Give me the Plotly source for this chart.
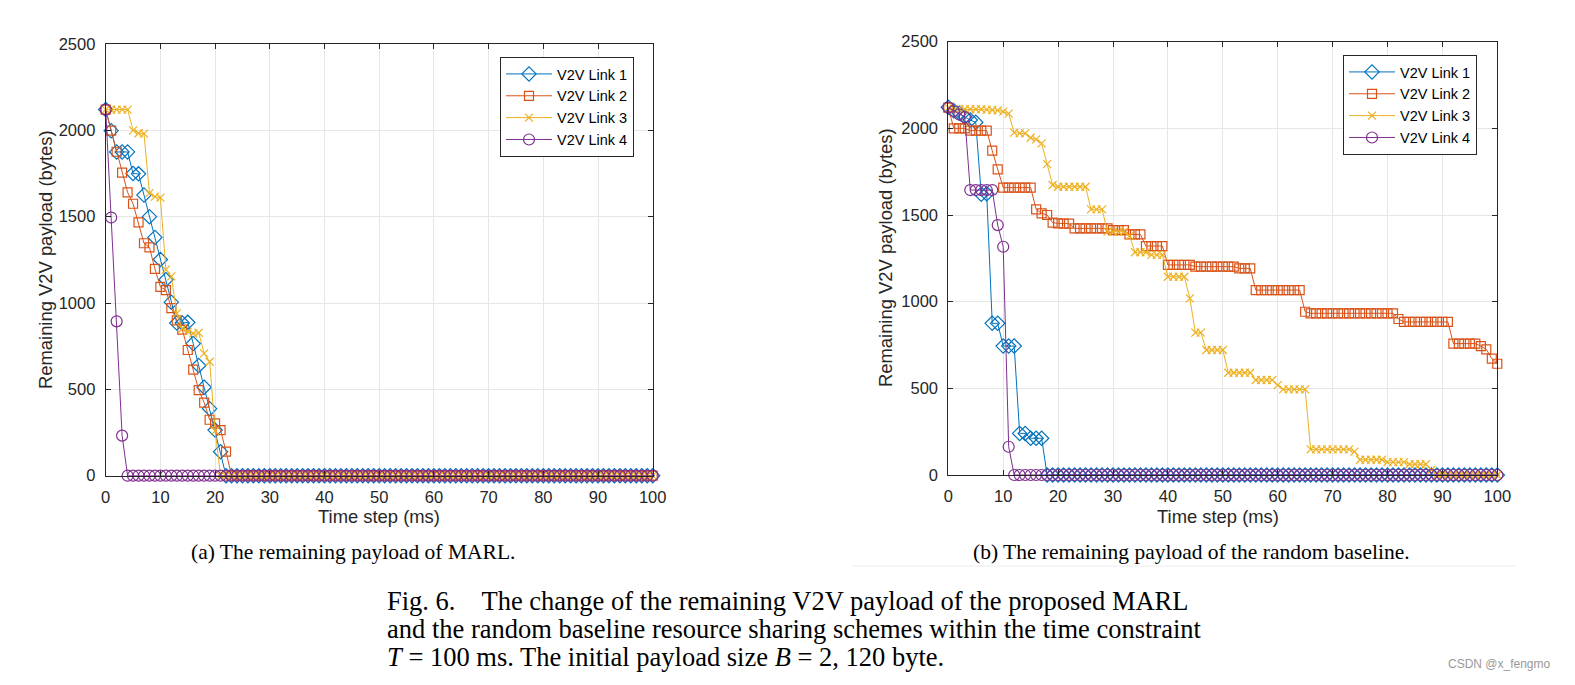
import plotly.graph_objects as go

# ---------------- data ----------------
steps = list(range(0, 101))

# (a) MARL
marl_link1 = [2120, 1998, 1875, 1875, 1875, 1750, 1748, 1625, 1500, 1380, 1252, 1135, 1005, 884, 884, 888,
              765, 638, 512, 388, 264, 139, 0] + [0] * 78
marl_link2 = [2120, 1998, 1876, 1755, 1641, 1575, 1467, 1346, 1322, 1198, 1093, 1075, 970, 900, 846, 728,
              614, 496, 423, 324, 303, 264, 139, 0] + [0] * 77
marl_link3 = [2120, 2120, 2120, 2120, 2120, 2000, 1983, 1981, 1636, 1616, 1610, 1193, 1154, 940, 851, 834,
              824, 828, 708, 660, 260, 0] + [0] * 79
marl_link4 = [2120, 1495, 894, 232, 0] + [0] * 96

# (b) random baseline
rand_link1 = [2122, 2102, 2087, 2067, 2048, 2035, 1620, 1622, 875, 875, 744, 744, 744, 240, 240, 212,
              212, 212] + [0] * 83
rand_link2 = ([2120, 2000, 2000, 2000, 1987, 1987, 1987, 1987, 1871, 1763]
              + [1658] * 6                      # 10-15
              + [1533, 1510, 1500]              # 16-18
              + [1456, 1452, 1450, 1450]        # 19-22
              + [1423] * 7                      # 23-29
              + [1413] * 3                      # 30-32
              + [1388] * 3                      # 33-35
              + [1321] * 4                      # 36-39
              + [1212] * 5                      # 40-44
              + [1202] * 8                      # 45-52
              + [1192] * 3                      # 53-55
              + [1067] * 9                      # 56-64
              + [942]                           # 65
              + [933] * 16                      # 66-81
              + [900]                           # 82
              + [883] * 9                       # 83-91
              + [758] * 5                       # 92-96
              + [744, 725, 671, 642])           # 97-100
rand_link3 = ([2120, 2112, 2110, 2110, 2110, 2110, 2110, 2108, 2106, 2104, 2097, 2085,
               1975, 1971, 1971, 1946, 1936, 1913, 1794, 1673]
              + [1663] * 6                      # 20-25
              + [1533] * 3                      # 26-28
              + [1404] * 4                      # 29-32
              + [1380]                          # 33
              + [1285] * 3                      # 34-36
              + [1270] * 3                      # 37-39
              + [1144] * 4                      # 40-43
              + [1019]                          # 44
              + [821] * 2                       # 45-46
              + [721] * 4                       # 47-50
              + [590] * 5                       # 51-55
              + [548] * 4                       # 56-59
              + [519]                           # 60
              + [494] * 5                       # 61-65
              + [148] * 8                       # 66-73
              + [135]                           # 74
              + [88] * 5                        # 75-79
              + [74] * 4                        # 80-83
              + [62] * 4                        # 84-87
              + [30]                            # 88
              + [0] * 12)                       # 89-100
rand_link4 = [2120, 2100, 2080, 2065, 1644, 1644, 1644, 1644, 1644, 1442, 1317, 163] + [0] * 89

link_names = ["V2V Link 1", "V2V Link 2", "V2V Link 3", "V2V Link 4"]
colors = ["#0072BD", "#D95319", "#EDB120", "#7E2F8E"]
symbols = ["diamond-open", "square-open", "x-thin-open", "circle-open"]
msizes = [11, 9, 8, 11]

y_ticks = [0, 500, 1000, 1500, 2000, 2500]
x_ticks = list(range(0, 101, 10))

W, H = 1575, 685

fig = go.Figure()

panels = [
    ([marl_link1, marl_link2, marl_link3, marl_link4], "x", "y", "legend"),
    ([rand_link1, rand_link2, rand_link3, rand_link4], "x2", "y2", "legend2"),
]
for series, xa, ya, lg in panels:
    for i, ys in enumerate(series):
        fig.add_trace(go.Scatter(
            x=steps, y=ys, mode="lines+markers", name=link_names[i],
            xaxis=xa, yaxis=ya, legend=lg, cliponaxis=False,
            line=dict(color=colors[i], width=1),
            marker=dict(symbol=symbols[i], size=msizes[i], color=colors[i],
                        line=dict(color=colors[i], width=1.2)),
        ))

sans = "Liberation Sans, Arial, sans-serif"
axis_font = dict(family=sans, size=16.5, color="#262626")

def px_x(p):
    return p / W

def px_y(p):
    return 1 - p / H

common_x = dict(range=[0, 100], tickvals=x_ticks, showgrid=True, gridcolor="#e6e6e6", gridwidth=1,
                showline=True, linecolor="#262626", linewidth=1, mirror="ticks",
                ticks="inside", ticklen=5, tickcolor="#262626", zeroline=False,
                tickfont=axis_font, ticklabelstandoff=6, automargin=False)
common_y = dict(range=[0, 2500], tickvals=y_ticks, showgrid=True, gridcolor="#e6e6e6", gridwidth=1,
                showline=True, linecolor="#262626", linewidth=1, mirror="ticks",
                ticks="inside", ticklen=5, tickcolor="#262626", zeroline=False,
                tickfont=axis_font, ticklabelstandoff=6, automargin=False)

legend_common = dict(bgcolor="white", bordercolor="#262626", borderwidth=1,
                     font=dict(family=sans, size=14.5, color="#000000"),
                     xanchor="left", yanchor="top", tracegroupgap=0, itemwidth=46)

fig.update_layout(
    width=W, height=H,
    margin=dict(l=0, r=0, t=0, b=0, autoexpand=False),
    paper_bgcolor="white", plot_bgcolor="white",
    showlegend=True,
    xaxis=dict(domain=[px_x(105.7), px_x(652.7)], anchor="y", **common_x),
    yaxis=dict(domain=[px_y(475.7), px_y(44)], anchor="x", **common_y),
    xaxis2=dict(domain=[px_x(948.3), px_x(1497.3)], anchor="y2", **common_x),
    yaxis2=dict(domain=[px_y(475), px_y(41.7)], anchor="x2", **common_y),
    legend=dict(x=px_x(500), y=px_y(57), **legend_common),
    legend2=dict(x=px_x(1343), y=px_y(55), **legend_common),
)

title_font = dict(family=sans, size=18.4, color="#262626")
serif = "Liberation Serif, Times New Roman, serif"
cap_size = 26.5

annotations = [
    dict(text="Time step (ms)", x=px_x(379), y=px_y(516), font=title_font),
    dict(text="Time step (ms)", x=px_x(1218), y=px_y(516), font=title_font),
    dict(text="Remaining V2V payload (bytes)", x=px_x(45), y=px_y(260), textangle=-90, font=title_font),
    dict(text="Remaining V2V payload (bytes)", x=px_x(885), y=px_y(258), textangle=-90, font=title_font),
    dict(text="(a) The remaining payload of MARL.", x=px_x(353), y=px_y(552),
         font=dict(family=serif, size=21.5, color="#000000")),
    dict(text="(b) The remaining payload of the random baseline.", x=px_x(1191), y=px_y(552),
         font=dict(family=serif, size=21.5, color="#000000")),
    dict(text="Fig. 6.&nbsp;&nbsp;&nbsp; The change of the remaining V2V payload of the proposed MARL",
         x=px_x(385), y=px_y(601), xanchor="left", font=dict(family=serif, size=cap_size, color="#000000")),
    dict(text="and the random baseline resource sharing schemes within the time constraint",
         x=px_x(385), y=px_y(629), xanchor="left", font=dict(family=serif, size=cap_size, color="#000000")),
    dict(text="<i>T</i> = 100 ms. The initial payload size <i>B</i> = 2, 120 byte.",
         x=px_x(385), y=px_y(657), xanchor="left", font=dict(family=serif, size=cap_size, color="#000000")),
    dict(text="CSDN @x_fengmo", x=px_x(1553), y=px_y(664), xanchor="right",
         font=dict(family=sans, size=12, color="#999999")),
]
for a in annotations:
    a.setdefault("xanchor", "center")
    a.update(xref="paper", yref="paper", showarrow=False, yanchor="middle")
fig.update_layout(annotations=annotations)

fig.add_shape(type="line", xref="paper", yref="paper", x0=px_x(852), x1=px_x(1515),
              y0=px_y(566), y1=px_y(566), line=dict(color="#eeeeee", width=1))

fig.write_html("out.html", config={"displayModeBar": False},
               post_script="document.body.style.margin='0px';document.body.style.overflow='hidden';")
